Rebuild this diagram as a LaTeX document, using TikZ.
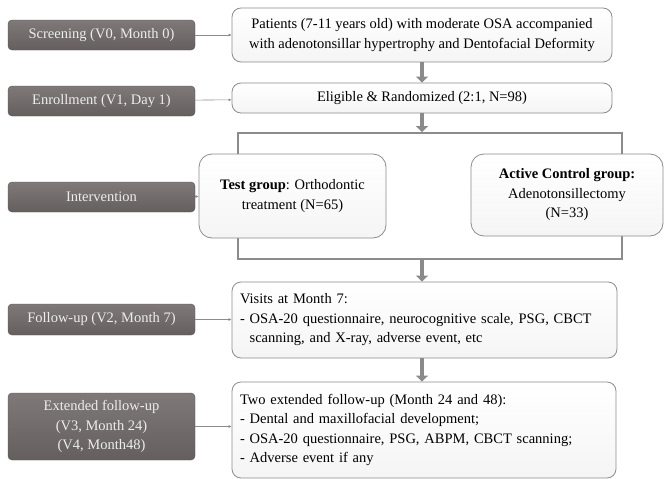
\documentclass[tikz,border=0pt]{standalone}
\usepackage{xcolor}
\usepackage{fontspec}
\setmainfont{Liberation Serif}
\usetikzlibrary{arrows.meta}

\definecolor{stagegray}{HTML}{6D6766}
\definecolor{edgegray}{HTML}{8C8C8C}
\definecolor{flowgray}{HTML}{8A8A8A}

\begin{document}
\begin{tikzpicture}[x=1pt,y=-1pt,
    font=\fontsize{14.5}{19.5}\selectfont,
    stage/.style={draw=stagegray!80!black, rounded corners=4pt,
      top color=stagegray!88!white, bottom color=stagegray!92!black,
      text=white!93!black, minimum width=187pt, inner sep=0pt, align=center},
    panel/.style={draw=edgegray, rounded corners=9pt, line width=0.8pt,
      top color=white, bottom color=black!4, inner sep=0pt, align=center},
    bigflow/.style={flowgray, line width=4.5pt,
      -{Triangle[width=12pt,length=6pt]}},
    link/.style={edgegray, line width=0.6pt, -{Latex[length=3pt,width=3pt]}}]
  \useasboundingbox (0,0) rectangle (664,479);

  % visit labels on the left
  \node[stage, minimum height=30pt] (screen) at (101.5,35) {Screening (V0, Month 0)};
  \node[stage, minimum height=30pt] (enrol) at (101.5,101) {Enrollment (V1, Day 1)};
  \node[stage, minimum height=30pt] (interv) at (101.5,197) {Intervention};
  \node[stage, minimum height=31pt] (follow) at (101.5,319.5) {Follow-up (V2, Month 7)};
  \node[stage, minimum height=67pt] (extend) at (101.5,426.5)
    {Extended follow-up\\(V3, Month 24)\\(V4, Month48)};

  % randomisation frame
  \node[draw=edgegray, line width=1.8pt, minimum width=384pt, minimum height=126pt,
    inner sep=0pt] (split) at (430,196) {};

  % study flow
  \node[panel, minimum width=380pt, minimum height=54pt] (patients) at (422,35)
    {Patients (7-11 years old) with moderate OSA accompanied\\with adenotonsillar hypertrophy and Dentofacial Deformity};
  \node[panel, minimum width=380pt, minimum height=30pt] (eligible) at (422,98)
    {Eligible \& Randomized (2:1, N=98)};
  \node[panel, rounded corners=13pt, minimum width=187pt, minimum height=84pt]
    (testgrp) at (292.5,196) {\textbf{Test group}: Orthodontic\\treatment (N=65)};
  \node[panel, rounded corners=13pt, minimum width=192pt, minimum height=82pt]
    (ctrlgrp) at (567,195) {\textbf{Active Control group:}\\Adenotonsillectomy\\(N=33)};
  \node[panel, minimum width=385pt, minimum height=76pt, text width=369pt, align=left]
    (visits) at (424.5,320)
    {Visits at Month 7:\\- OSA-20 questionnaire, neurocognitive scale, PSG, CBCT\\\phantom{- }scanning, and X-ray, adverse event, etc};
  \node[panel, minimum width=384pt, minimum height=96pt, text width=368pt, align=left]
    (twoext) at (424,430)
    {Two extended follow-up (Month 24 and 48):\\- Dental and maxillofacial development;\\- OSA-20 questionnaire, PSG, ABPM, CBCT scanning;\\- Adverse event if any};

  \draw[bigflow] (patients.south) -- (eligible.north);
  \draw[bigflow] (eligible.south) -- (eligible.south |- split.north);
  \draw[bigflow] (eligible.south |- split.south) -- (eligible.south |- visits.north);
  \draw[bigflow] (eligible.south |- visits.south) -- (eligible.south |- twoext.north);

  \draw[link] (screen) -- (patients);
  \draw[link] (enrol) -- (eligible);
  \draw[link] (interv) -- (testgrp);
  \draw[link] (follow) -- (visits.west |- follow);
  \draw[link] (extend) -- (twoext.west |- extend);
\end{tikzpicture}
\end{document}
